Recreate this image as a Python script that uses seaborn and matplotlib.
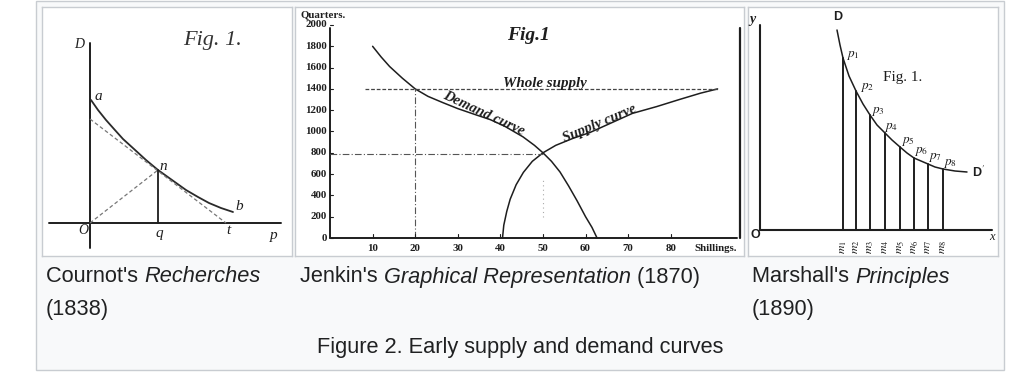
import matplotlib
matplotlib.use("Agg")
import matplotlib.pyplot as plt
import seaborn as sns
import pandas as pd
from matplotlib.patches import Rectangle
from matplotlib.text import Annotation

# ---------------- data ----------------
# Cournot (1838) - coordinates relative to origin O
cournot_curve_x = [1, 8, 16, 24, 33, 44, 56, 68, 82, 96, 108, 119, 131, 143]
cournot_curve_y = [123, 113, 103, 94, 84, 74, 63, 53, 43, 33, 26, 20, 15, 11]
cournot_tangent_x = [0, 136]
cournot_tangent_y = [104, 0]
cournot_n = (68, 53)

# Jenkin (1870) - shillings / quarters
demand_x = [10, 12, 14, 17, 20, 23, 26.5, 30, 34, 37.6, 41, 45.3, 48, 50, 52, 54, 56, 58, 60, 61.5, 62.7]
demand_y = [1800, 1700, 1610, 1500, 1400, 1330, 1271, 1215, 1160, 1112, 1050, 950, 870, 800, 720, 620, 490, 350, 200, 100, 0]
supply_x = [40.5, 40.8, 41.5, 42.3, 43.7, 45.4, 47.5, 50, 53, 57, 61, 66, 71, 76.7, 82, 87, 91]
supply_y = [0, 120, 250, 364, 500, 616, 720, 800, 870, 935, 990, 1080, 1170, 1234, 1300, 1360, 1400]
whole_supply = 1400
jenkin_yticks = [0, 200, 400, 600, 800, 1000, 1200, 1400, 1600, 1800, 2000]
jenkin_xticks = [10, 20, 30, 40, 50, 60, 70, 80]

# Marshall (1890)
marshall_curve_x = [77, 80, 83, 89, 96, 103, 110, 117, 125, 132, 140, 147, 154, 161, 168, 175, 183, 195, 207]
marshall_curve_y = [200, 185, 172, 154, 139, 126, 115, 105, 97, 90, 83, 77, 72, 69, 66, 63, 61, 59, 58]
marshall_m_x = [83, 96, 110, 125, 140, 154, 168, 183]
marshall_m_y = [172, 139, 115, 97, 83, 72, 66, 61]
marshall_p_labels = [r"$p_1$", r"$p_2$", r"$p_3$", r"$p_4$", r"$p_5$", r"$p_6$", r"$p_7$", r"$p_8$"]
marshall_m_labels = [r"$m_1$", r"$m_2$", r"$m_3$", r"$m_4$", r"$m_5$", r"$m_6$", r"$m_7$", r"$m_8$"]

captions = ["Cournot's ", "Recherches", "(1838)",
            "Jenkin's ", "Graphical Representation", " (1870)",
            "Marshall's ", "Principles", "(1890)"]
figure_caption = "Figure 2. Early supply and demand curves"

# ---------------- setup ----------------
sns.set_theme(style="white")
plt.rcParams['font.family'] = ['Liberation Sans', 'DejaVu Sans']
plt.rcParams['mathtext.fontset'] = 'stix'

W, H = 1024, 379
fig = plt.figure(figsize=(W / 100, H / 100), dpi=100)
fig.patch.set_facecolor("white")

fig.patches.append(Rectangle((36 / W, 1 - 370 / H), (1004 - 36) / W, 369 / H,
                             transform=fig.transFigure, fc="#f8f9fa", ec="#c8ccd1", lw=1, zorder=-5))

def px_axes(l, t, r, b):
    ax = fig.add_axes([l / W, 1 - b / H, (r - l) / W, (b - t) / H])
    ax.set_zorder(2)
    ax.set_facecolor("white")
    for s in ax.spines.values():
        s.set_color("#c8ccd1")
        s.set_linewidth(1)
    ax.set_xticks([])
    ax.set_yticks([])
    return ax

INK = "#1e1e1e"
SERIF = ['Liberation Serif', 'DejaVu Serif']

# ---------------- Cournot ----------------
ax1 = px_axes(42, 7, 292, 256)
ax1.set_xlim(-48, 202)
ax1.set_ylim(-33, 216)
ax1.plot([0, 0], [-25, 180], color=INK, lw=1.4)
ax1.plot([-41, 191], [0, 0], color=INK, lw=1.4)
sns.lineplot(x=cournot_curve_x, y=cournot_curve_y, ax=ax1, sort=False, estimator=None, color="#2a2a2a", lw=1.3)
sns.lineplot(x=cournot_tangent_x, y=cournot_tangent_y, ax=ax1, sort=False, estimator=None, color="#777777", lw=0.9, linestyle=(0, (3, 2)))
sns.lineplot(x=[0, cournot_n[0]], y=[0, cournot_n[1]], ax=ax1, sort=False, estimator=None, color="#777777", lw=0.9, linestyle=(0, (3, 2)))
ax1.plot([cournot_n[0], cournot_n[0]], [0, cournot_n[1]], color=INK, lw=1.3)
for txt, (x, y), fs in [("D", (-11, 178), 10), ("a", (8, 126), 11), ("n", (73, 56), 11),
                        ("b", (149, 16), 11), ("O", (-7, -7), 10), ("q", (69, -10), 11),
                        ("t", (138, -7), 11), ("p", (184, -12), 11)]:
    ax1.text(x, y, txt, fontsize=fs, style="italic", family=SERIF, color=INK, ha="center", va="center")
ax1.text(123, 183, "Fig. 1.", fontsize=16, style="italic", family=SERIF, color="#333333", ha="center", va="center")

# ---------------- Jenkin ----------------
TFS = 7.8
ax2 = px_axes(295, 7, 744, 256)
ax2.set_xlim(-8.22, 97.2)
ax2.set_ylim(-169, 2169)
ax2.plot([0, 0], [0, 1972], color=INK, lw=1.4)
ax2.plot([0, 95.5], [0, 0], color=INK, lw=1.4)
ax2.plot([96.2, 96.2], [0, 1972], color=INK, lw=1.6)
sns.lineplot(x=demand_x, y=demand_y, ax=ax2, sort=False, estimator=None, color=INK, lw=1.1)
sns.lineplot(x=supply_x, y=supply_y, ax=ax2, sort=False, estimator=None, color=INK, lw=1.1)
ax2.plot([8.2, 91], [whole_supply, whole_supply], color="#444444", lw=0.9, linestyle=(0, (3, 1.5)))
ax2.plot([20, 20], [0, whole_supply], color="#555555", lw=0.8, linestyle=(0, (6, 2, 1, 2)))
ax2.plot([0, 50], [790, 790], color="#555555", lw=0.8, linestyle=(0, (6, 2, 1, 2)))
ax2.plot([50, 50], [200, 540], color="#aaaaaa", lw=0.8, linestyle=(0, (1, 3)))
for v in jenkin_yticks:
    ax2.text(-0.7, v, str(v), fontsize=TFS, fontweight="bold", family=SERIF, color=INK, ha="right", va="center")
    ax2.plot([0, 0.8], [v, v], color=INK, lw=0.8)
for v in jenkin_xticks:
    ax2.text(v, -103, str(v), fontsize=TFS, fontweight="bold", family=SERIF, color=INK, ha="center", va="center")
    ax2.plot([v, v], [0, 35], color=INK, lw=0.8)
ax2.text(85.5, -103, "Shillings.", fontsize=TFS, fontweight="bold", family=SERIF, color=INK, ha="left", va="center")
ax2.text(-7.0, 2094, "Quarters.", fontsize=TFS, fontweight="bold", family=SERIF, color=INK, ha="left", va="center")
ax2.text(46.5, 1906, "Fig.1", fontsize=14, fontweight="bold", style="italic", family=SERIF, color=INK, ha="center", va="center")
ax2.text(50.5, 1450, "Whole supply", fontsize=10.8, fontweight="bold", style="italic", family=SERIF, color=INK, ha="center", va="center")
ax2.text(36.0, 1165, "Demand curve", fontsize=10.5, fontweight="bold", style="italic", family=SERIF, color=INK,
         ha="center", va="center", rotation=-25, rotation_mode="anchor")
ax2.text(63.3, 1070, "Supply curve", fontsize=10.5, fontweight="bold", style="italic", family=SERIF, color=INK,
         ha="center", va="center", rotation=23, rotation_mode="anchor")

# ---------------- Marshall ----------------
ax3 = px_axes(748, 7, 998, 256)
ax3.set_xlim(-12, 238)
ax3.set_ylim(-26, 223)
ax3.plot([0, 0], [0, 205], color=INK, lw=1.5)
ax3.plot([0, 232], [0, 0], color=INK, lw=1.5)
sns.lineplot(x=marshall_curve_x, y=marshall_curve_y, ax=ax3, sort=False, estimator=None, color=INK, lw=1.1)
for mx, my in zip(marshall_m_x, marshall_m_y):
    ax3.plot([mx, mx], [0, my], color=INK, lw=1.4)
p_pos = [(93, 175), (107, 142), (118, 118), (131, 103), (148, 88), (161, 78), (175, 73), (190, 67)]
for lab, (x, y) in zip(marshall_p_labels, p_pos):
    ax3.text(x, y, lab, fontsize=9.5, color=INK, ha="center", va="center")
for lab, mx in zip(marshall_m_labels, marshall_m_x):
    ax3.text(mx, -17, lab, fontsize=8.5, color=INK, ha="center", va="center", rotation=90)
ax3.text(-8, 210, "y", fontsize=10, fontweight="bold", style="italic", family=SERIF, color=INK, ha="center", va="center")
ax3.text(-5, -5, "O", fontsize=9, fontweight="bold", color=INK, ha="center", va="center")
ax3.text(232, -7, "x", fontsize=9, style="italic", family=SERIF, color=INK, ha="center", va="center")
ax3.text(78, 213, "D", fontsize=9, fontweight="bold", color=INK, ha="center", va="center")
ax3.text(219, 58, "D$'$", fontsize=9, fontweight="bold", color=INK, ha="center", va="center")
ax3.text(143, 153, "Fig. 1.", fontsize=11, family=SERIF, color=INK, ha="center", va="center")

# ---------------- captions ----------------
CAP = "#202122"
FS = 15.7

def rich(x, y, parts):
    prev = None
    for s, sty in parts:
        if prev is None:
            prev = fig.text(x / W, 1 - y / H, s, fontsize=FS, style=sty, color=CAP, ha="left", va="center")
        else:
            prev = fig.add_artist(Annotation(s, xy=(1, 0.5), xycoords=prev, va="center", ha="left",
                                             fontsize=FS, style=sty, color=CAP))

rich(46, 277, [(captions[0], "normal"), (captions[1], "italic")])
rich(46, 309, [(captions[2], "normal")])
rich(300, 277, [(captions[3], "normal"), (captions[4], "italic"), (captions[5], "normal")])
rich(752, 277, [(captions[6], "normal"), (captions[7], "italic")])
rich(752, 309, [(captions[8], "normal")])
fig.text(520 / W, 1 - 347 / H, figure_caption, fontsize=FS, color=CAP, ha="center", va="center")

fig.savefig("out.png", dpi=100)
